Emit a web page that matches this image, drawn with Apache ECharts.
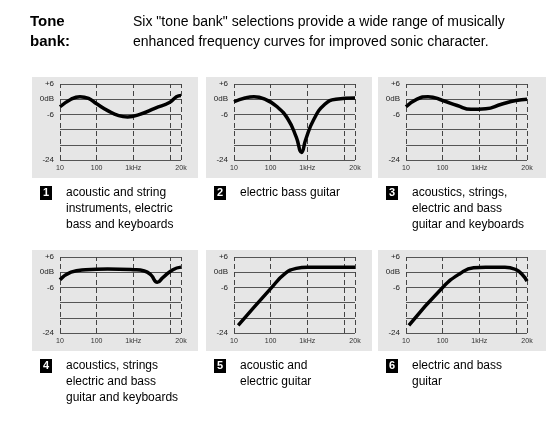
<!DOCTYPE html>
<html><head><meta charset="utf-8">
<script src="https://cdn.jsdelivr.net/npm/echarts@6/dist/echarts.min.js"></script>
<style>html,body{margin:0;padding:0;background:#fff}#c{width:560px;height:424px}</style>
</head><body><div id="c"></div>
<script>
const freqTicks = [10, 100, 1000, 10000, 20000];
const freqLabels = ['10', '100', '1kHz', '10k', '20k'];
const dbLabels = {6: '+6', 0: '0dB', '-6': '-6', '-24': '-24'};
const curve1 = [[10,-3],[20,0],[35,1],[60,0.3],[100,-1.8],[200,-4.5],[400,-6.5],[700,-7],[1500,-6],[4000,-3.5],[10000,-1.2],[15000,1],[20000,1.5]];
const curve2 = [[10,-1],[20,0.5],[35,1],[70,0],[150,-3],[300,-8],[500,-15],[700,-21],[900,-16],[1500,-8],[3000,-2],[6000,0],[20000,0.5]];
const curve3 = [[10,-3],[20,0],[40,1],[100,-0.5],[250,-2.5],[600,-4],[1500,-3.8],[4000,-2],[10000,-0.5],[20000,0]];
const curve4 = [[10,-3],[20,0],[50,1],[200,1.3],[1000,1],[2000,0.5],[3000,-1],[4500,-4],[6500,-2],[12000,1],[20000,2]];
const curve5 = [[13,-21],[100,-6.5],[250,-0.5],[500,1.5],[1000,2],[5000,2],[20000,2]];
const curve6 = [[12,-21],[100,-6],[300,-0.5],[700,1.8],[1500,2],[5000,2],[10000,1],[15000,-1],[20000,-3.5]];
const curves = [curve1, curve2, curve3, curve4, curve5, curve6];
const captions = [
 ['acoustic and string','instruments, electric','bass and keyboards'],
 ['electric bass guitar'],
 ['acoustics, strings,','electric and bass','guitar and keyboards'],
 ['acoustics, strings','electric and bass','guitar and keyboards'],
 ['acoustic and','electric guitar'],
 ['electric and bass','guitar']
];
const panelX = [32, 206, 378];
const panelY = [77, 250];
const FONT = 'Liberation Sans, Arial, sans-serif';
const grids=[], xAxes=[], yAxes=[], series=[], graphic=[];
graphic.push({type:'text',left:30,top:12,style:{text:'Tone\nbank:',font:'bold 15px '+FONT,fill:'#000',lineHeight:20}});
graphic.push({type:'text',left:133,top:12,style:{text:'Six "tone bank" selections provide a wide range of musically\nenhanced frequency curves for improved sonic character.',font:'14px '+FONT,fill:'#000',lineHeight:20}});
curves.forEach((c,i)=>{
  const px = panelX[i%3], py = panelY[Math.floor(i/3)];
  const w = i%3===2?168:166;
  graphic.push({type:'rect',shape:{x:px,y:py,width:w,height:101},style:{fill:'#e6e6e6'},z:-10});
  grids.push({left:px+28,top:py+7,width:121,height:76});
  xAxes.push({type:'value',gridIndex:i,min:1,max:Math.log10(20000),
    axisLine:{show:false},splitLine:{show:false},
    axisTick:{show:false},
    axisLabel:{customValues:freqTicks.map(Math.log10),hideOverlap:false,showMaxLabel:true,showMinLabel:true,
      formatter:v=>{const k=freqTicks.findIndex(f=>Math.abs(Math.log10(f)-v)<1e-6);return k>=0?freqLabels[k]:'';},fontSize:7,color:'#333',margin:5,fontFamily:FONT}});
  yAxes.push({type:'value',gridIndex:i,min:-24,max:6,interval:6,
    axisLine:{show:false},axisTick:{show:false},
    splitLine:{lineStyle:{color:'#555',width:1}},
    axisLabel:{formatter:v=>dbLabels[v]||'',fontSize:8,color:'#222',margin:6,fontFamily:FONT}});
  series.push({type:'line',xAxisIndex:i,yAxisIndex:i,smooth:0.5,symbol:'none',
    data:c.map(p=>[Math.log10(p[0]),p[1]]),lineStyle:{color:'#000',width:3.5},z:5,
    markLine:{silent:true,symbol:'none',label:{show:false},
      lineStyle:{color:'#444',type:[5,3],width:1},
      data:freqTicks.map(f=>({xAxis:Math.log10(f)}))}});
  const cy = py + 108;
  graphic.push({type:'rect',shape:{x:px+8,y:cy+1,width:12,height:14},style:{fill:'#000'}});
  graphic.push({type:'text',x:px+14,y:cy+8,style:{text:String(i+1),font:'bold 11px '+FONT,fill:'#fff',align:'center',verticalAlign:'middle'}});
  graphic.push({type:'text',x:px+34,y:cy,style:{text:captions[i].join('\n'),font:'12px '+FONT,fill:'#000',lineHeight:16}});
});
const chart = echarts.init(document.getElementById('c'),null,{renderer:'canvas'});
chart.setOption({animation:false,grid:grids,xAxis:xAxes,yAxis:yAxes,series,graphic});
</script></body></html>
